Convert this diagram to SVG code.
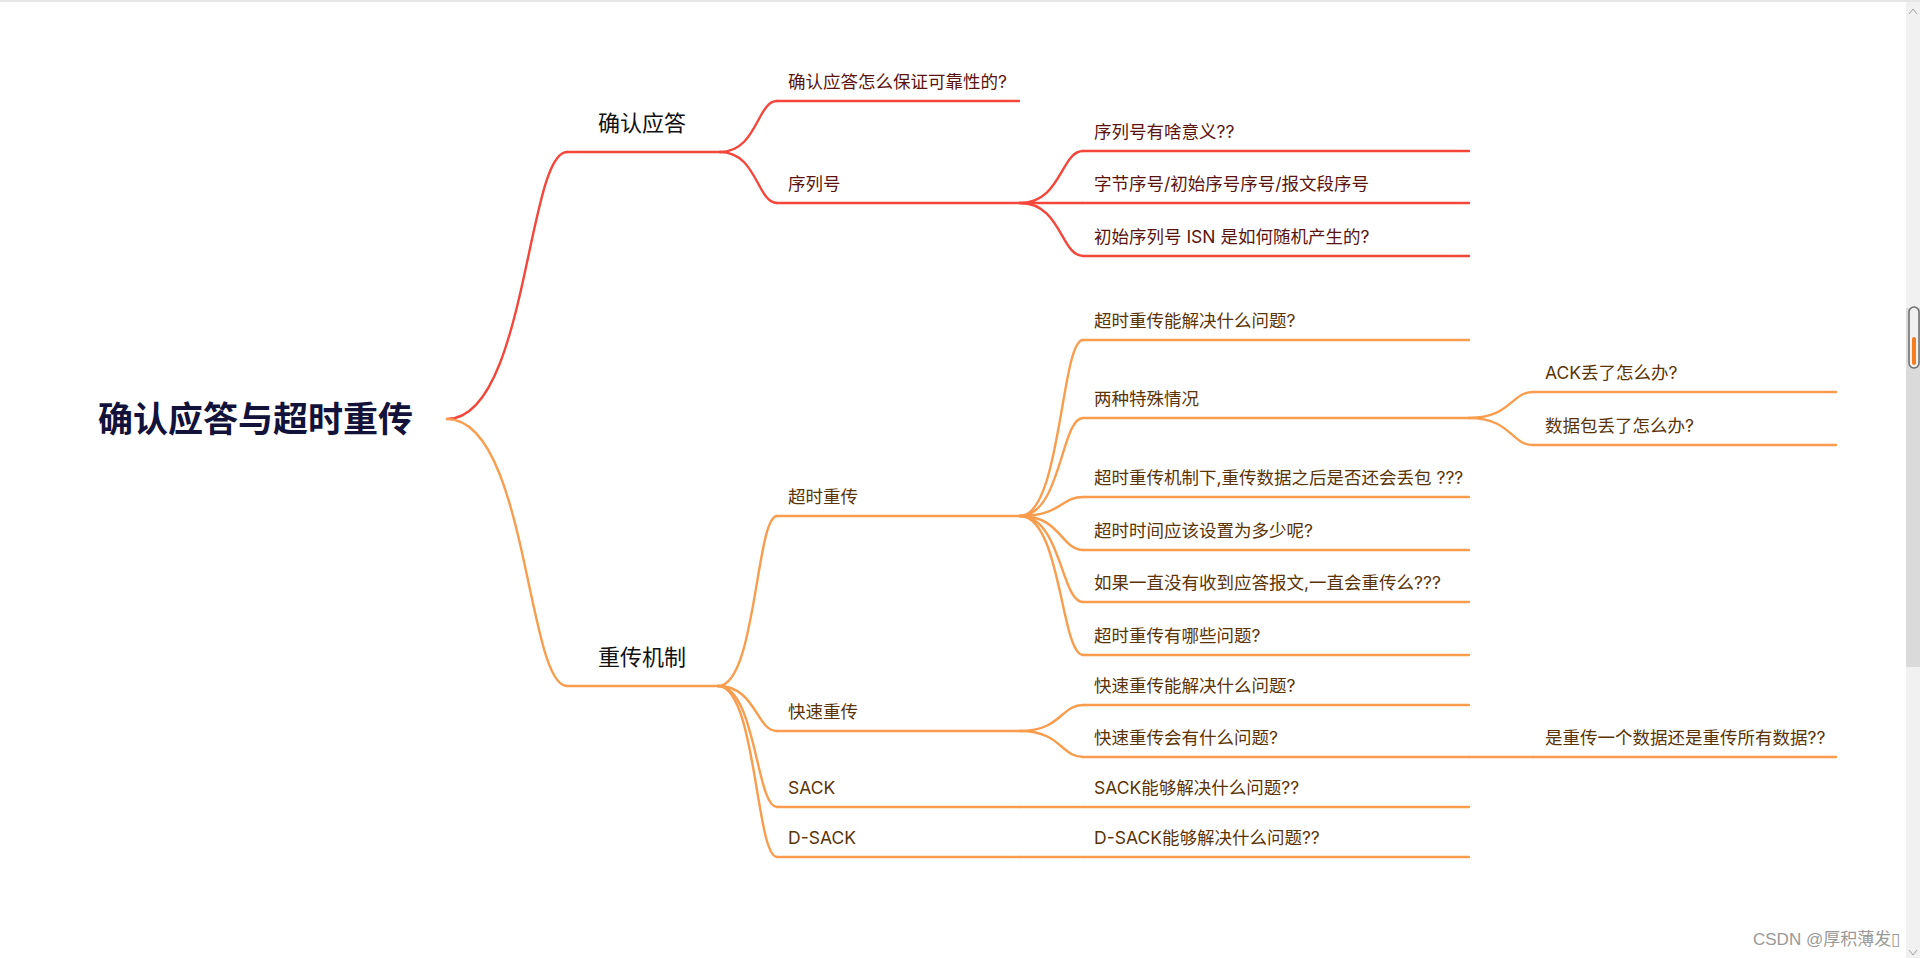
<svg xmlns="http://www.w3.org/2000/svg" width="1920" height="958" viewBox="0 0 1920 958">
<style>
.r{fill:none;stroke:#f4463b;stroke-width:2.4;stroke-linecap:round}
.o{fill:none;stroke:#f89d4e;stroke-width:2.4;stroke-linecap:round}
.t{font-family:Inter,"Noto Sans CJK SC",sans-serif;font-size:17.5px}
.tr{fill:#5a1410}
.to{fill:#5a3306}
.l1{font-family:"Noto Sans CJK SC",sans-serif;font-size:22px;fill:#111}
.root{font-family:"Noto Sans CJK SC",sans-serif;font-size:35px;font-weight:bold;fill:#12123a}
</style>
<rect x="0" y="0" width="1920" height="958" fill="#fff"/>
<rect x="0" y="0" width="1920" height="2" fill="#e6e6e6"/>

<g id="connectors">
<path class="r" d="M447 419 C527 419 527 152 567 152"/>
<path class="o" d="M447 419 C527 419 527 686 567 686"/>
<path class="r" d="M720 152 C757 152 757 101 777 101"/>
<path class="r" d="M720 152 C757 152 757 203 777 203"/>
<path class="r" d="M1020 203 C1061 203 1061 151 1083 151"/>
<path class="r" d="M1020 203 L1083 203"/>
<path class="r" d="M1020 203 C1061 203 1061 256 1083 256"/>
<path class="o" d="M718 686 C756 686 756 516 777 516"/>
<path class="o" d="M718 686 C756 686 756 731 777 731"/>
<path class="o" d="M718 686 C756 686 756 807 777 807"/>
<path class="o" d="M718 686 C756 686 756 857 777 857"/>
<path class="o" d="M1020 516 C1061 516 1061 340 1083 340"/>
<path class="o" d="M1020 516 C1061 516 1061 418 1083 418"/>
<path class="o" d="M1020 516 C1061 516 1061 497 1083 497"/>
<path class="o" d="M1020 516 C1061 516 1061 550 1083 550"/>
<path class="o" d="M1020 516 C1061 516 1061 602 1083 602"/>
<path class="o" d="M1020 516 C1061 516 1061 655 1083 655"/>
<path class="o" d="M1469 418 C1511 418 1511 392 1533 392"/>
<path class="o" d="M1469 418 C1511 418 1511 445 1533 445"/>
<path class="o" d="M1020 731 C1061 731 1061 705 1083 705"/>
<path class="o" d="M1020 731 C1061 731 1061 757 1083 757"/>
<path class="o" d="M1020 807 L1083 807"/>
<path class="o" d="M1020 857 L1083 857"/>
<path class="o" d="M1469 757 L1533 757"/>
</g>

<g id="root"><text class="root" x="98" y="432">确认应答与超时重传</text></g>

<g id="n-ack"><path class="r" d="M567 152 H720"/><text class="l1" x="598" y="131">确认应答</text></g>
<g id="n-retrans"><path class="o" d="M567 686 H718"/><text class="l1" x="598" y="665">重传机制</text></g>

<g id="n-reliable"><path class="r" d="M777 101 H1019"/><text class="t tr" x="788" y="87.5">确认应答怎么保证可靠性的?</text></g>
<g id="n-seq"><path class="r" d="M777 203 H1020"/><text class="t tr" x="788" y="189.5">序列号</text></g>
<g id="n-seq1"><path class="r" d="M1083 151 H1469"/><text class="t tr" x="1094" y="137.5">序列号有啥意义??</text></g>
<g id="n-seq2"><path class="r" d="M1083 203 H1469"/><text class="t tr" x="1094" y="189.5">字节序号/初始序号序号/报文段序号</text></g>
<g id="n-seq3"><path class="r" d="M1083 256 H1469"/><text class="t tr" x="1094" y="242.5">初始序列号 ISN 是如何随机产生的?</text></g>

<g id="n-timeout"><path class="o" d="M777 516 H1020"/><text class="t to" x="788" y="502.5">超时重传</text></g>
<g id="n-to1"><path class="o" d="M1083 340 H1469"/><text class="t to" x="1094" y="326.5">超时重传能解决什么问题?</text></g>
<g id="n-to2"><path class="o" d="M1083 418 H1469"/><text class="t to" x="1094" y="404.5">两种特殊情况</text></g>
<g id="n-to2a"><path class="o" d="M1533 392 H1836"/><text class="t to" x="1545" y="378.5">ACK丢了怎么办?</text></g>
<g id="n-to2b"><path class="o" d="M1533 445 H1836"/><text class="t to" x="1545" y="431.5">数据包丢了怎么办?</text></g>
<g id="n-to3"><path class="o" d="M1083 497 H1469"/><text class="t to" x="1094" y="483.5">超时重传机制下,重传数据之后是否还会丢包 ???</text></g>
<g id="n-to4"><path class="o" d="M1083 550 H1469"/><text class="t to" x="1094" y="536.5">超时时间应该设置为多少呢?</text></g>
<g id="n-to5"><path class="o" d="M1083 602 H1469"/><text class="t to" x="1094" y="588.5">如果一直没有收到应答报文,一直会重传么???</text></g>
<g id="n-to6"><path class="o" d="M1083 655 H1469"/><text class="t to" x="1094" y="641.5">超时重传有哪些问题?</text></g>

<g id="n-fast"><path class="o" d="M777 731 H1020"/><text class="t to" x="788" y="717.5">快速重传</text></g>
<g id="n-fast1"><path class="o" d="M1083 705 H1469"/><text class="t to" x="1094" y="691.5">快速重传能解决什么问题?</text></g>
<g id="n-fast2"><path class="o" d="M1083 757 H1469"/><text class="t to" x="1094" y="743.5">快速重传会有什么问题?</text></g>
<g id="n-fast2a"><path class="o" d="M1533 757 H1836"/><text class="t to" x="1545" y="743.5">是重传一个数据还是重传所有数据??</text></g>

<g id="n-sack"><path class="o" d="M777 807 H1020"/><text class="t to" x="788" y="793.5">SACK</text></g>
<g id="n-sack1"><path class="o" d="M1083 807 H1469"/><text class="t to" x="1094" y="793.5">SACK能够解决什么问题??</text></g>
<g id="n-dsack"><path class="o" d="M777 857 H1020"/><text class="t to" x="788" y="843.5">D-SACK</text></g>
<g id="n-dsack1"><path class="o" d="M1083 857 H1469"/><text class="t to" x="1094" y="843.5">D-SACK能够解决什么问题??</text></g>

<g id="scrollbar">
<rect x="1906" y="2" width="14" height="956" fill="#f1f1f1"/>
<rect x="1906" y="308" width="14" height="359" fill="#dadada"/>
<rect x="1909" y="307" width="10" height="61" rx="5" fill="#f1f1f1" stroke="#6b6b6b" stroke-width="1.5"/>
<rect x="1912" y="337" width="4" height="28" rx="2" fill="#f57c1f"/>
<path d="M1909 14 L1913 9 L1917 14" fill="none" stroke="#a0a0a0" stroke-width="1"/>
<path d="M1909 950 L1913 955 L1917 950" fill="none" stroke="#a0a0a0" stroke-width="1"/>
</g>
<g id="watermark"><text x="1753" y="945" font-family="'Liberation Sans','Noto Sans CJK SC',sans-serif" font-size="17" fill="#999">CSDN @厚积薄发▯</text></g>
</svg>
